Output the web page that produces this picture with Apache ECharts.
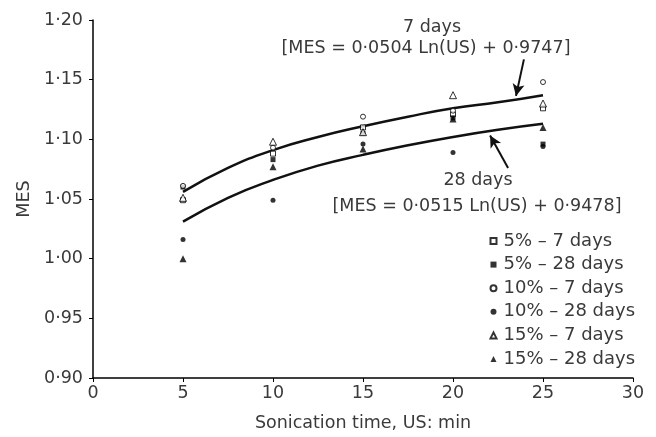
<!DOCTYPE html>
<html><head><meta charset="utf-8">
<script src="https://cdn.jsdelivr.net/npm/echarts@6/dist/echarts.min.js"></script>
<style>html,body{margin:0;padding:0;background:#fff}#c{width:656px;height:437px}</style>
</head><body><div id="c"></div>
<script>
var times = [5, 10, 15, 20, 25];
var s5_7   = [1.049, 1.088, 1.110, 1.121, 1.126];
var s5_28  = [1.060, 1.083, 1.105, 1.118, 1.096];
var s10_7  = [1.061, 1.093, 1.119, 1.124, 1.148];
var s10_28 = [1.016, 1.049, 1.096, 1.089, 1.094];
var s15_7  = [1.051, 1.098, 1.106, 1.137, 1.130];
var s15_28 = [1.000, 1.077, 1.092, 1.117, 1.110];
var fitX   = [5, 7.5, 10, 12.5, 15, 17.5, 20, 22.5, 25];
var fit7   = [1.056, 1.076, 1.091, 1.102, 1.111, 1.119, 1.126, 1.131, 1.137];
var fit28  = [1.031, 1.051, 1.066, 1.078, 1.087, 1.095, 1.102, 1.108, 1.113];
var names = ['5% – 7 days','5% – 28 days','10% – 7 days','10% – 28 days','15% – 7 days','15% – 28 days'];
var seriesVals = [s5_7, s5_28, s10_7, s10_28, s15_7, s15_28];
var symbols = ['rect','rect','circle','circle','triangle','triangle'];
var hollow = [true,false,true,false,true,false];

function pairs(xs, ys){ return xs.map(function(x,i){ return [x, ys[i]]; }); }
var FONT = 'DejaVu Sans';
var TXT = '#3a3a3a';
var series = names.map(function(n,i){
  return {
    name: n, type: 'scatter', data: pairs(times, seriesVals[i]),
    symbol: symbols[i], symbolSize: symbols[i]==='triangle'?7:5,
    itemStyle: hollow[i] ? {color:'#fff', borderColor:'#000', borderWidth:1} : {color:'#000'},
    z: 3
  };
});
series.push({
  type:'line', data: pairs(fitX, fit7), smooth:true, symbol:'none',
  lineStyle:{color:'#111', width:2.5}, z:2, silent:true,
  markLine:{symbol:['none','arrow'], symbolSize:[9,12], silent:true, label:{show:false},
    lineStyle:{color:'#111', width:2, type:'solid'},
    data:[[{coord:[23.94,1.167]},{coord:[23.5,1.1364]}]]}
});
series.push({
  type:'line', data: pairs(fitX, fit28), smooth:true, symbol:'none',
  lineStyle:{color:'#111', width:2.5}, z:2, silent:true,
  markLine:{symbol:['none','arrow'], symbolSize:[9,12], silent:true, label:{show:false},
    lineStyle:{color:'#111', width:2, type:'solid'},
    data:[[{coord:[23.06,1.076]},{coord:[22.06,1.1033]}]]}
});

var annFont = '17.5px "DejaVu Sans"';
var chart = echarts.init(document.getElementById('c'));
chart.setOption({
  animation:false,
  backgroundColor:'#fff',
  grid:{left:93, right:23, top:20, bottom:54, containLabel:false},
  xAxis:{type:'value', min:0, max:30, interval:5,
    name:'Sonication time, US: min', nameLocation:'middle', nameGap:36,
    nameTextStyle:{fontFamily:FONT, fontSize:17.5, color:TXT},
    axisLine:{lineStyle:{color:'#000', width:1.5}},
    axisTick:{show:true, length:4, lineStyle:{color:'#000'}},
    axisLabel:{fontFamily:FONT, fontSize:17.5, color:TXT, margin:6},
    splitLine:{show:false}},
  yAxis:{type:'value', min:0.9, max:1.2, interval:0.05,
    name:'MES', nameLocation:'middle', nameGap:53,
    nameTextStyle:{fontFamily:FONT, fontSize:17.5, color:TXT},
    axisLine:{show:true, lineStyle:{color:'#000', width:1.5}},
    axisTick:{show:true, length:4, lineStyle:{color:'#000'}},
    axisLabel:{fontFamily:FONT, fontSize:17.5, color:TXT, margin:10,
      formatter:function(v){ return v.toFixed(2).replace('.', '·'); }},
    splitLine:{show:false}},
  legend:{orient:'vertical', left:484.5, top:227, data:names,
    itemWidth:6, itemHeight:6, itemGap:5.6,
    textStyle:{fontFamily:FONT, fontSize:18, lineHeight:18, color:TXT, padding:[0,0,0,2]},
    selectedMode:false},
  graphic:[
    {type:'text', position:[432,27], style:{text:'7 days', x:0, y:0, align:'center', verticalAlign:'middle', font:annFont, fill:TXT}},
    {type:'text', position:[426,48], style:{text:'[MES = 0·0504 Ln(US) + 0·9747]', x:0, y:0, align:'center', verticalAlign:'middle', font:annFont, fill:TXT}},
    {type:'text', position:[478,180], style:{text:'28 days', x:0, y:0, align:'center', verticalAlign:'middle', font:annFont, fill:TXT}},
    {type:'text', position:[477,206], style:{text:'[MES = 0·0515 Ln(US) + 0·9478]', x:0, y:0, align:'center', verticalAlign:'middle', font:annFont, fill:TXT}}
  ],
  series: series
});
</script></body></html>
